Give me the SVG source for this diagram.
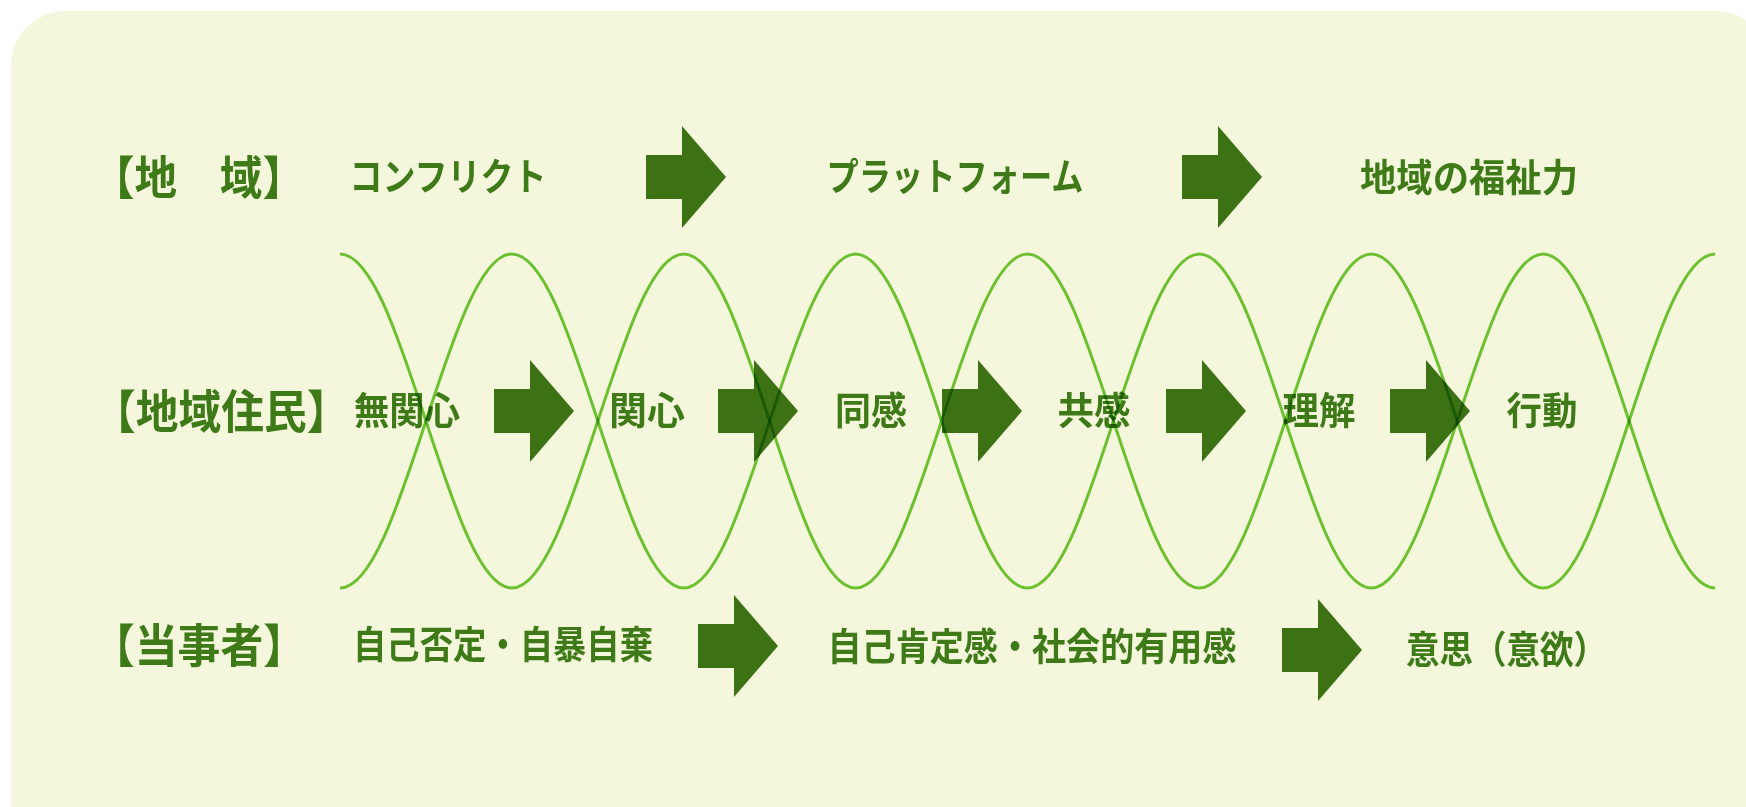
<svg xmlns="http://www.w3.org/2000/svg" xmlns:xlink="http://www.w3.org/1999/xlink" width="1746" height="807" viewBox="0 0 1746 807">
<style>
.lbl{font-family:"Noto Sans CJK JP","Noto Sans CJK SC",sans-serif;font-size:46px;font-weight:700;fill:#3E7A17}
.txt{font-family:"Noto Sans CJK JP","Noto Sans CJK SC",sans-serif;font-size:38px;font-weight:700;fill:#3E7A17;text-anchor:middle}
.arrow{fill:#3D7214}
.wave{fill:none;stroke:#72C636;stroke-width:3;mix-blend-mode:multiply}
</style>
<defs>
<path id="arr" d="M0,-22 H36 V-51 L80,0 L36,51 V22 H0 Z"/>
</defs>
<rect x="0" y="0" width="1746" height="807" fill="#FFFFFF"/>
<rect id="panel" x="11" y="11" width="1760" height="900" rx="55" ry="55" fill="#F4F7DC"/>

<g id="connectors" class="arrow">
<use xlink:href="#arr" x="646" y="177"/>
<use xlink:href="#arr" x="1182" y="177"/>
<use xlink:href="#arr" x="494" y="411"/>
<use xlink:href="#arr" x="718" y="411"/>
<use xlink:href="#arr" x="942" y="411"/>
<use xlink:href="#arr" x="1166" y="411"/>
<use xlink:href="#arr" x="1390" y="411"/>
<use xlink:href="#arr" x="698" y="646"/>
<use xlink:href="#arr" x="1282" y="650"/>
</g>

<g id="row-chiiki">
<text id="label-chiiki" class="lbl" x="92" y="194" textLength="213" lengthAdjust="spacingAndGlyphs">【地　域】</text>
<g id="n-conflict"><text class="txt" x="448" y="190" textLength="197" lengthAdjust="spacingAndGlyphs">コンフリクト</text></g>
<g id="n-platform"><text class="txt" x="955" y="190" textLength="257" lengthAdjust="spacingAndGlyphs">プラットフォーム</text></g>
<g id="n-fukushi"><text class="txt" x="1469" y="191" textLength="218" lengthAdjust="spacingAndGlyphs">地域の福祉力</text></g>
</g>

<g id="row-jumin">
<text id="label-jumin" class="lbl" transform="translate(93,428) scale(0.93,1)" x="0" y="0">【地域住民】</text>
<g id="n-mukanshin"><text class="txt" transform="translate(407,424) scale(0.93,1)" x="0" y="0">無関心</text></g>
<g id="n-kanshin"><text class="txt" x="647" y="424" textLength="76" lengthAdjust="spacingAndGlyphs">関心</text></g>
<g id="n-doukan"><text class="txt" x="871" y="424" textLength="72" lengthAdjust="spacingAndGlyphs">同感</text></g>
<g id="n-kyoukan"><text class="txt" x="1094" y="424" textLength="73" lengthAdjust="spacingAndGlyphs">共感</text></g>
<g id="n-rikai"><text class="txt" x="1319" y="424" textLength="73" lengthAdjust="spacingAndGlyphs">理解</text></g>
<g id="n-koudou"><text class="txt" x="1542" y="424" textLength="71" lengthAdjust="spacingAndGlyphs">行動</text></g>
</g>

<g id="row-tojisha">
<text id="label-tojisha" class="lbl" x="92" y="662" textLength="214" lengthAdjust="spacingAndGlyphs">【当事者】</text>
<g id="n-hitei"><text class="txt" x="503" y="658" textLength="300" lengthAdjust="spacingAndGlyphs">自己否定・自暴自棄</text></g>
<g id="n-koutei"><text class="txt" x="1032" y="660" textLength="409" lengthAdjust="spacingAndGlyphs">自己肯定感・社会的有用感</text></g>
<g id="n-ishi"><text class="txt" x="1406" y="663" textLength="201" lengthAdjust="spacingAndGlyphs" style="text-anchor:start">意思（意欲）</text></g>
</g>

<g id="waves">
<path class="wave" d="M340,254
c31.1,0 57.91,81.45 85.94,167 c28.03,85.55 54.84,167 85.94,167 c31.1,0 57.91,-81.45 85.94,-167 c28.03,-85.55 54.84,-167 85.94,-167
c31.1,0 57.91,81.45 85.94,167 c28.03,85.55 54.84,167 85.94,167 c31.1,0 57.91,-81.45 85.94,-167 c28.03,-85.55 54.84,-167 85.94,-167
c31.1,0 57.91,81.45 85.94,167 c28.03,85.55 54.84,167 85.94,167 c31.1,0 57.91,-81.45 85.94,-167 c28.03,-85.55 54.84,-167 85.94,-167
c31.1,0 57.91,81.45 85.94,167 c28.03,85.55 54.84,167 85.94,167 c31.1,0 57.91,-81.45 85.94,-167 c28.03,-85.55 54.84,-167 85.94,-167"/>
<path class="wave" d="M340,588
c31.1,0 57.91,-81.45 85.94,-167 c28.03,-85.55 54.84,-167 85.94,-167 c31.1,0 57.91,81.45 85.94,167 c28.03,85.55 54.84,167 85.94,167
c31.1,0 57.91,-81.45 85.94,-167 c28.03,-85.55 54.84,-167 85.94,-167 c31.1,0 57.91,81.45 85.94,167 c28.03,85.55 54.84,167 85.94,167
c31.1,0 57.91,-81.45 85.94,-167 c28.03,-85.55 54.84,-167 85.94,-167 c31.1,0 57.91,81.45 85.94,167 c28.03,85.55 54.84,167 85.94,167
c31.1,0 57.91,-81.45 85.94,-167 c28.03,-85.55 54.84,-167 85.94,-167 c31.1,0 57.91,81.45 85.94,167 c28.03,85.55 54.84,167 85.94,167"/>
</g>
</svg>
